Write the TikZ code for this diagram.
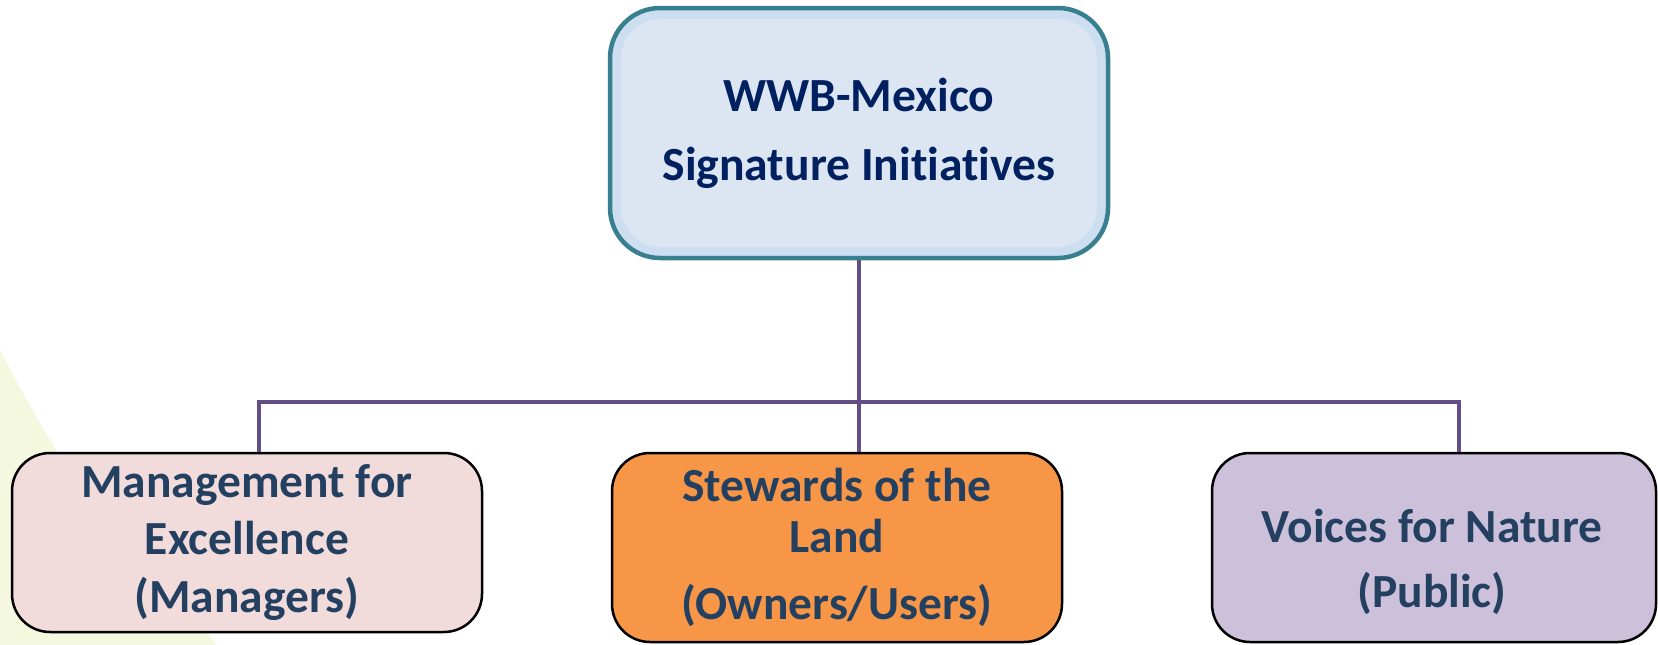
\documentclass[tikz,border=0pt]{standalone}
\usepackage{fontspec}
\setmainfont{Carlito}[Ligatures=NoCommon]
\definecolor{topline}{RGB}{56,128,144}
\definecolor{topband}{RGB}{204,222,240}
\definecolor{topinner}{RGB}{220,230,242}
\definecolor{topText}{RGB}{0,32,96}
\definecolor{lowText}{RGB}{36,64,97}
\definecolor{connc}{RGB}{100,78,133}
\definecolor{pinkfill}{RGB}{242,220,219}
\definecolor{orangefill}{RGB}{247,150,70}
\definecolor{lilacfill}{RGB}{204,192,218}
\definecolor{wedge}{RGB}{243,248,222}
\begin{document}
\begin{tikzpicture}[x=1pt,y=-1pt,
  conn/.style={draw=connc, line width=4.8pt},
  topbox/.style={draw=topline, line width=4.5pt, fill=topband, rounded corners=50pt,
    minimum width=498pt, minimum height=250pt, align=center, text=topText, inner sep=0pt,
    font=\bfseries\fontsize{47.6}{69}\selectfont,
    path picture={\fill[topinner, rounded corners=40pt]
      ([xshift=11pt,yshift=-11pt]path picture bounding box.north west) rectangle
      ([xshift=-11pt,yshift=11pt]path picture bounding box.south east);}},
  lowbox/.style={draw=black, line width=2.5pt, rounded corners=38pt, align=center,
    text=lowText, inner sep=0pt},
  lowtext/.style={align=center, text=lowText, inner sep=0pt},
]
\useasboundingbox (0,0) rectangle (1658,645);
% pale background wedge
\fill[wedge] (0,350) .. controls (22,392) and (42,428) .. (60,456) -- (217,645) -- (0,645) -- cycle;

\node[topbox] (top) at (859,133) {WWB-Mexico\\Signature Initiatives};

\node[lowbox, fill=pinkfill, minimum width=470pt, minimum height=179pt,
  font=\bfseries\fontsize{47.5}{57.5}\selectfont] (left) at (247,542.5)
  {Management for\\Excellence\\(Managers)};
\node[lowbox, fill=orangefill, minimum width=450pt, minimum height=189pt,
  font=\bfseries\fontsize{47.5}{51}\selectfont] (mid) at (837,547.5)
  {Stewards of the\\Land\\[16pt](Owners/Users)};
\node[lowbox, fill=lilacfill, minimum width=444pt, minimum height=189pt] (right) at (1434,547.5) {};
\node[lowtext, font=\bfseries\fontsize{47.5}{65}\selectfont] (rightT) at (1432,562)
  {Voices for Nature\\(Public)};

\coordinate (hub) at (859,402);
\draw[conn] (top.south) -- (top.south |- mid.north);
\draw[conn] ([xshift=12pt]left.north) |- (hub) -| ([xshift=25pt]right.north);
\end{tikzpicture}
\end{document}
